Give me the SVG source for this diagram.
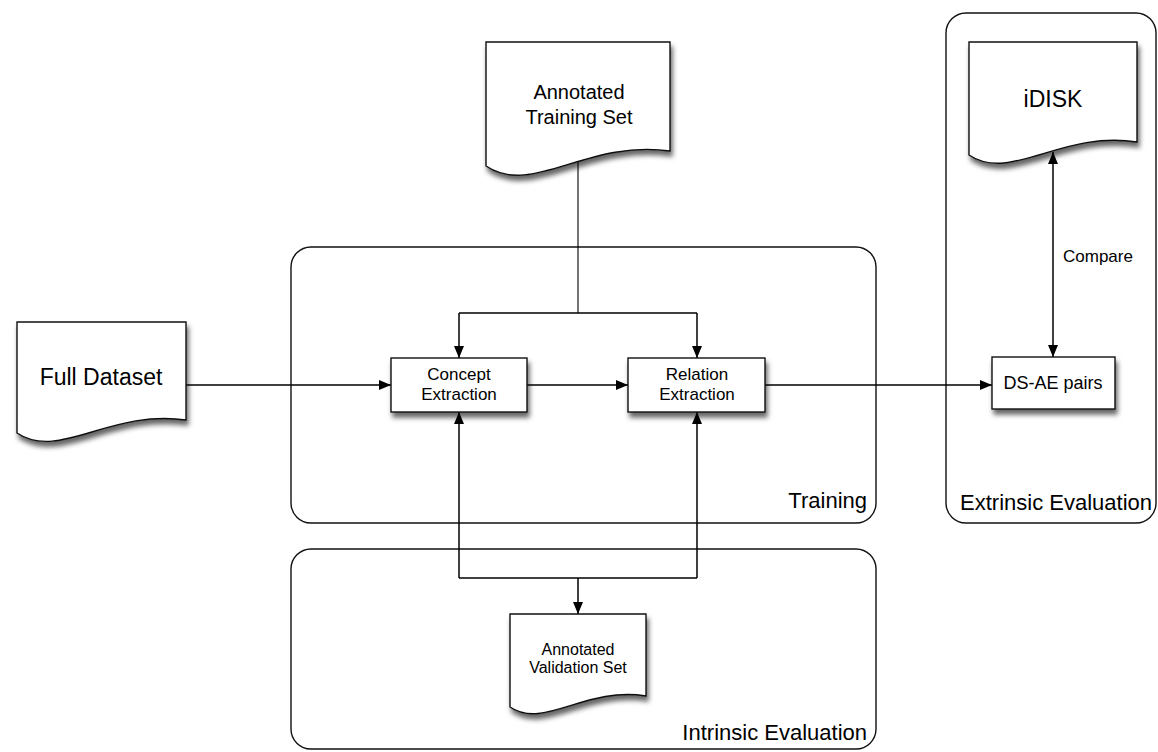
<svg xmlns="http://www.w3.org/2000/svg" width="1158" height="752" viewBox="0 0 1158 752">
<style>
text{font-family:"Liberation Sans",Arial,Helvetica,sans-serif;fill:#000}
.grp{fill:none;stroke:#111;stroke-width:1.4}
.doc,.box{fill:#fff;stroke:#111;stroke-width:1.4;filter:url(#sh)}
.con{fill:none;stroke:#000;stroke-width:1.5}
.thin{fill:none;stroke:#000;stroke-width:1.1}
.lbl{font-size:22px;text-anchor:end}
.mid{text-anchor:middle}
</style>
<defs>
<filter id="sh" x="-20%" y="-20%" width="150%" height="160%">
<feDropShadow dx="2" dy="5" stdDeviation="2.5" flood-color="#000" flood-opacity="0.6"/>
</filter>
<marker id="ah" viewBox="0 0 12 10" refX="12" refY="5" markerWidth="12" markerHeight="10" markerUnits="userSpaceOnUse" orient="auto-start-reverse">
<path d="M0,0 L12,5 L0,10 Z" fill="#000"/>
</marker>
</defs>

<g id="group-training">
<rect class="grp" x="291" y="247" width="585" height="276" rx="20"/>
<text class="lbl" x="867" y="508">Training</text>
</g>
<g id="group-intrinsic">
<rect class="grp" x="291" y="549" width="585" height="200" rx="20"/>
<text class="lbl" x="867" y="740">Intrinsic Evaluation</text>
</g>
<g id="group-extrinsic">
<rect class="grp" x="946" y="13" width="210" height="510" rx="20"/>
<text class="lbl" x="1152" y="510">Extrinsic Evaluation</text>
</g>

<g id="connectors">
<path class="con" d="M186,385 H391" marker-end="url(#ah)"/>
<path class="con" d="M527,385 H628" marker-end="url(#ah)"/>
<path class="con" d="M765,385 H992" marker-end="url(#ah)"/>
<path class="thin" d="M578,160 V313"/>
<path class="con" d="M459,313 H697"/>
<path class="con" d="M459,313 V358" marker-end="url(#ah)"/>
<path class="con" d="M697,313 V358" marker-end="url(#ah)"/>
<path class="con" d="M459,578 H697"/>
<path class="con" d="M459,578 V412" marker-end="url(#ah)"/>
<path class="con" d="M697,578 V412" marker-end="url(#ah)"/>
<path class="con" d="M578,578 V614" marker-end="url(#ah)"/>
<path class="con" d="M1053,152 V357" marker-start="url(#ah)" marker-end="url(#ah)"/>
<text x="1063" y="262" style="font-size:17px">Compare</text>
</g>

<g id="node-full-dataset">
<path class="doc" d="M17,322 H186 V420 C110,409 59,461 17,433 Z"/>
<text class="mid" x="101" y="385" style="font-size:23px">Full Dataset</text>
</g>
<g id="node-annotated-training">
<path class="doc" d="M486,42 H670 V151 C587,139 532,197 486,166 Z"/>
<text class="mid" x="579" y="99" style="font-size:20px">Annotated</text>
<text class="mid" x="579" y="124" style="font-size:20px">Training Set</text>
</g>
<g id="node-idisk">
<path class="doc" d="M969,42 H1137 V142 C1061,130 1011,183 969,155 Z"/>
<text class="mid" x="1053" y="107" style="font-size:23px">iDISK</text>
</g>
<g id="node-concept">
<rect class="box" x="391" y="358" width="136" height="54"/>
<text class="mid" x="459" y="380" style="font-size:17px">Concept</text>
<text class="mid" x="459" y="400" style="font-size:17px">Extraction</text>
</g>
<g id="node-relation">
<rect class="box" x="628" y="358" width="137" height="54"/>
<text class="mid" x="697" y="380" style="font-size:17px">Relation</text>
<text class="mid" x="697" y="400" style="font-size:17px">Extraction</text>
</g>
<g id="node-dsae">
<rect class="box" x="992" y="357" width="123" height="52"/>
<text class="mid" x="1053" y="389" style="font-size:18px">DS-AE pairs</text>
</g>
<g id="node-validation">
<path class="doc" d="M510,614 H646 V696 C585,686 544,730 510,707 Z"/>
<text class="mid" x="578" y="655" style="font-size:16px">Annotated</text>
<text class="mid" x="578" y="673" style="font-size:16px">Validation Set</text>
</g>
</svg>
